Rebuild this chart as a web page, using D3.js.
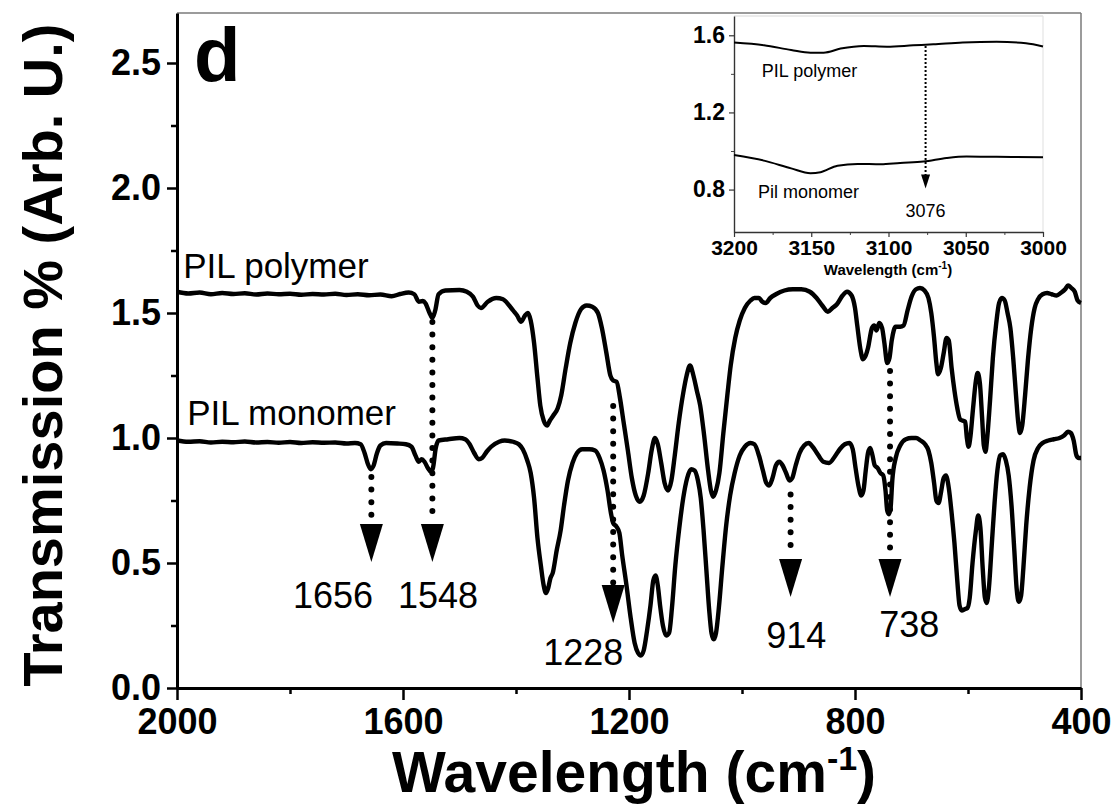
<!DOCTYPE html>
<html>
<head>
<meta charset="utf-8">
<script src="https://cdn.jsdelivr.net/npm/d3@7"></script>
<style>
html,body{margin:0;padding:0;background:#fff;}
svg{display:block;}
text{font-family:Arial,"Liberation Sans",sans-serif;fill:#000;}
</style>
</head>
<body>
<svg id="chart" width="1118" height="810"></svg>
<script>
// ---------- DATA ----------
const xTicksMain = [2000, 1600, 1200, 800, 400];
const xMinorMain = [1800, 1400, 1000, 600];
const yTicksMain = [0, 0.5, 1.0, 1.5, 2.0, 2.5];
const yMinorMain = [0.25, 0.75, 1.25, 1.75, 2.25];

// PIL polymer: [wavenumber, transmission]
const polymerWn = [2000,1980,1960,1940,1920,1900,1880,1860,1840,1820,1800,1780,1760,1740,1720,1700,1680,1660,1640,1620,1605,1590,1580,1572,1565,1560,1553,1548,1543,1537,1525,1500,1487,1476,1468,1462,1450,1435,1423,1412,1405,1398,1391,1384,1379,1374,1368,1362,1357,1351,1345,1340,1334,1326,1320,1312,1304,1295,1285,1275,1265,1255,1248,1240,1233,1228,1222,1216,1210,1202,1195,1188,1181,1174,1166,1160,1154,1149,1143,1137,1131,1125,1119,1112,1104,1098,1092,1086,1080,1074,1067,1060,1055,1051,1046,1040,1033,1026,1020,1012,1004,995,985,978,970,964,958,950,940,925,910,895,880,868,858,848,840,832,822,814,806,800,796,790,786,781,777,770,766,762,757,752,748,743,739,735,728,720,714,707,700,692,685,677,670,665,660,656,653,648,643,638,634,629,624,619,614,610,605,602,599,596,591,586,583,579,575,572,569,566,561,556,550,545,540,535,530,525,520,515,511,508,504,499,494,488,482,476,468,460,452,443,436,428,423,417,411,406,400];
const polymerT = [1.585,1.578,1.582,1.575,1.580,1.576,1.579,1.574,1.578,1.575,1.577,1.573,1.576,1.574,1.577,1.572,1.575,1.571,1.574,1.567,1.576,1.582,1.575,1.545,1.548,1.538,1.50,1.48,1.51,1.575,1.59,1.592,1.585,1.565,1.53,1.52,1.545,1.56,1.555,1.53,1.51,1.49,1.465,1.49,1.50,1.47,1.38,1.24,1.13,1.07,1.05,1.07,1.09,1.12,1.17,1.28,1.38,1.46,1.515,1.53,1.525,1.50,1.44,1.34,1.25,1.23,1.225,1.16,1.07,0.95,0.84,0.77,0.745,0.77,0.86,0.95,1.00,0.975,0.90,0.82,0.79,0.83,0.93,1.06,1.18,1.25,1.29,1.25,1.19,1.13,1.01,0.87,0.79,0.765,0.79,0.86,1.02,1.17,1.29,1.40,1.47,1.52,1.55,1.56,1.56,1.545,1.54,1.56,1.575,1.59,1.595,1.595,1.585,1.56,1.53,1.505,1.52,1.535,1.57,1.585,1.57,1.52,1.45,1.35,1.315,1.33,1.36,1.44,1.45,1.43,1.46,1.44,1.38,1.30,1.32,1.39,1.445,1.445,1.45,1.51,1.565,1.595,1.60,1.59,1.56,1.50,1.40,1.30,1.255,1.28,1.34,1.40,1.39,1.28,1.19,1.12,1.075,1.07,1.065,1.00,0.965,1.00,1.12,1.23,1.26,1.22,1.08,0.97,0.945,1.00,1.15,1.32,1.46,1.54,1.56,1.55,1.50,1.44,1.32,1.17,1.06,1.02,1.05,1.17,1.31,1.44,1.52,1.555,1.575,1.58,1.575,1.57,1.58,1.595,1.61,1.60,1.585,1.55,1.54];

// PIL monomer
const monomerWn = [2000,1980,1960,1940,1920,1900,1880,1860,1840,1820,1800,1780,1760,1740,1720,1700,1685,1675,1668,1662,1657,1652,1646,1640,1630,1610,1595,1585,1578,1572,1567,1562,1556,1551,1547,1542,1537,1520,1500,1490,1482,1474,1466,1460,1452,1444,1430,1420,1405,1395,1388,1380,1374,1368,1362,1356,1351,1347,1343,1339,1335,1328,1321,1315,1308,1300,1292,1283,1270,1260,1252,1245,1238,1232,1228,1222,1217,1212,1205,1197,1190,1184,1179,1174,1168,1162,1157,1153,1149,1145,1140,1134,1129,1124,1118,1111,1104,1097,1090,1084,1078,1073,1068,1063,1058,1054,1050,1046,1041,1035,1028,1021,1013,1004,995,985,978,970,963,957,952,946,940,934,928,922,916,911,905,898,890,882,875,866,856,846,836,827,818,810,804,799,794,789,785,781,777,773,769,765,760,755,750,746,743,740,737,734,728,720,710,700,692,684,676,670,665,660,656,652,648,643,639,634,629,624,619,615,611,606,601,597,592,586,582,578,574,570,567,563,558,553,548,543,538,533,528,523,518,514,510,506,502,497,491,484,476,468,458,448,438,430,423,418,413,408,404,400];
const monomerT = [0.99,0.985,0.987,0.982,0.985,0.983,0.986,0.982,0.984,0.981,0.984,0.980,0.983,0.981,0.982,0.978,0.98,0.975,0.94,0.895,0.875,0.89,0.94,0.97,0.98,0.978,0.975,0.965,0.93,0.905,0.915,0.905,0.88,0.865,0.88,0.96,0.99,0.995,1.00,0.995,0.975,0.94,0.915,0.92,0.945,0.965,0.985,0.99,0.985,0.975,0.955,0.91,0.86,0.76,0.60,0.49,0.41,0.38,0.40,0.44,0.46,0.55,0.63,0.73,0.83,0.90,0.94,0.955,0.955,0.95,0.92,0.87,0.79,0.70,0.66,0.645,0.62,0.53,0.42,0.28,0.18,0.14,0.13,0.15,0.23,0.33,0.43,0.45,0.41,0.33,0.25,0.21,0.22,0.32,0.49,0.64,0.76,0.84,0.875,0.87,0.83,0.76,0.63,0.47,0.31,0.22,0.195,0.22,0.32,0.48,0.65,0.77,0.86,0.93,0.965,0.98,0.975,0.93,0.87,0.82,0.81,0.84,0.89,0.905,0.89,0.86,0.83,0.84,0.89,0.94,0.97,0.98,0.965,0.935,0.905,0.90,0.925,0.955,0.975,0.98,0.955,0.88,0.81,0.77,0.79,0.87,0.94,0.96,0.93,0.89,0.88,0.86,0.85,0.79,0.71,0.695,0.72,0.83,0.92,0.97,0.995,1.00,1.00,0.99,0.975,0.95,0.90,0.82,0.75,0.74,0.78,0.84,0.85,0.80,0.70,0.58,0.43,0.33,0.31,0.315,0.32,0.36,0.50,0.63,0.69,0.64,0.48,0.36,0.34,0.40,0.57,0.74,0.87,0.93,0.935,0.91,0.85,0.73,0.55,0.40,0.345,0.37,0.48,0.65,0.80,0.91,0.96,0.98,0.99,0.995,1.00,1.01,1.025,1.02,0.99,0.93,0.92,0.92];

// Peak arrows: position, start value, tip value, label text, label centre, label baseline value
const arrowWn     = [1656, 1548, 1228, 914, 738];
const arrowStart  = [0.86, 1.48, 1.144, 0.79, 1.284];
const arrowTip    = [0.504, 0.504, 0.26, 0.364, 0.364];
const arrowLabel  = ["1656", "1548", "1228", "914", "738"];
const labelWn     = [1724, 1538, 1281, 904, 704];
const labelVal    = [0.32, 0.32, 0.092, 0.16, 0.204];

// Inset data
const insetXTicks = [3200, 3150, 3100, 3050, 3000];
const insetXMinor = [3175, 3125, 3075, 3025];
const insetYTicks = [0.8, 1.2, 1.6];
const insetYMinor = [1.0, 1.4];
const insetPolyWn = [3200,3180.6,3163,3150.5,3142,3131,3116,3101,3084,3071,3052,3030,3011,3000];
const insetPolyT  = [1.562,1.548,1.524,1.510,1.510,1.531,1.545,1.541,1.548,1.553,1.562,1.566,1.559,1.542];
const insetMonoWn = [3200,3180.6,3163,3150.5,3144,3133,3120,3105,3092.5,3077.4,3062.4,3049.5,3030,3000];
const insetMonoT  = [0.979,0.95,0.91,0.885,0.89,0.924,0.933,0.931,0.938,0.945,0.964,0.972,0.970,0.967];

// ---------- CHART ----------
const svg = d3.select("#chart");
const font = 'Arial,"Liberation Sans",sans-serif';

const x = d3.scaleLinear().domain([2000, 400]).range([177, 1081]);
const y = d3.scaleLinear().domain([0, 2.7]).range([688, 13]);

// frame top/right
svg.append("line").attr("x1", 177).attr("x2", 1081).attr("y1", y(2.7)).attr("y2", y(2.7))
  .attr("stroke", "#7a7a7a").attr("stroke-width", 1.5);
svg.append("line").attr("x1", 1081).attr("x2", 1081).attr("y1", y(2.7)).attr("y2", 688)
  .attr("stroke", "#7a7a7a").attr("stroke-width", 1.5);

// minor ticks
svg.append("g").attr("transform", "translate(0,688)")
  .call(d3.axisBottom(x).tickValues(xMinorMain).tickSize(6).tickFormat(""))
  .call(g => g.select(".domain").remove())
  .selectAll("line").attr("stroke-width", 2.5);
svg.append("g").attr("transform", "translate(177,0)")
  .call(d3.axisLeft(y).tickValues(yMinorMain).tickSize(6).tickFormat(""))
  .call(g => g.select(".domain").remove())
  .selectAll("line").attr("stroke-width", 2.5);

// major axes
const xAxis = svg.append("g").attr("transform", "translate(0,688)")
  .call(d3.axisBottom(x).tickValues(xTicksMain).tickSize(12).tickSizeOuter(0).tickPadding(8).tickFormat(d3.format("d")));
xAxis.select(".domain").attr("stroke-width", 3);
xAxis.selectAll(".tick line").attr("stroke-width", 2.5);
xAxis.selectAll("text").attr("font-family", font).attr("font-size", 36).attr("font-weight", "bold").attr("fill", "#000");

const yAxis = svg.append("g").attr("transform", "translate(177,0)")
  .call(d3.axisLeft(y).tickValues(yTicksMain).tickSize(10).tickSizeOuter(0).tickPadding(6).tickFormat(d3.format(".1f")));
yAxis.select(".domain").attr("stroke-width", 3);
yAxis.selectAll(".tick line").attr("stroke-width", 2.5);
yAxis.selectAll("text").attr("font-family", font).attr("font-size", 36).attr("font-weight", "bold").attr("fill", "#000");

// axis titles
const xt = svg.append("text").attr("x", 634).attr("y", 792).attr("text-anchor", "middle")
  .attr("font-size", 57).attr("font-weight", "bold");
xt.append("tspan").text("Wavelength (cm");
xt.append("tspan").attr("font-size", 34).attr("dy", -22).text("-1");
xt.append("tspan").attr("dy", 22).text(")");

svg.append("text").attr("transform", "translate(62,355) rotate(-90)").attr("text-anchor", "middle")
  .attr("font-size", 56).attr("font-weight", "bold").text("Transmission % (Arb. U.)");

// panel letter
svg.append("text").attr("x", 194).attr("y", 81).attr("font-size", 76).attr("font-weight", "bold").text("d");

// spectra
const line = d3.line().x(d => x(d[0])).y(d => y(d[1])).curve(d3.curveMonotoneX);
const polyData = polymerWn.map((w, i) => [w, polymerT[i]]);
const monoData = monomerWn.map((w, i) => [w, monomerT[i]]);
[polyData, monoData].forEach(data => {
  svg.append("path").datum(data).attr("d", line).attr("fill", "none")
    .attr("stroke", "#000").attr("stroke-width", 4.4).attr("stroke-linejoin", "round");
});

// series labels
svg.append("text").attr("x", x(1989)).attr("y", y(1.64)).attr("font-size", 35).text("PIL polymer");
svg.append("text").attr("x", x(1982)).attr("y", y(1.052)).attr("font-size", 35).text("PIL monomer");

// arrows
const headH = 38, headW = 23;
arrowWn.forEach((w, i) => {
  const ax = x(w), y0 = y(arrowStart[i]), yTip = y(arrowTip[i]);
  svg.append("line").attr("x1", ax).attr("x2", ax).attr("y1", y0 + 4).attr("y2", yTip - headH - 2)
    .attr("stroke", "#000").attr("stroke-width", 6).attr("stroke-linecap", "round")
    .attr("stroke-dasharray", "0 12.6");
  svg.append("path")
    .attr("d", `M${ax - headW / 2},${yTip - headH} L${ax + headW / 2},${yTip - headH} L${ax},${yTip} Z`)
    .attr("fill", "#000");
  svg.append("text").attr("x", x(labelWn[i])).attr("y", y(labelVal[i])).attr("text-anchor", "middle")
    .attr("font-size", 36).text(arrowLabel[i]);
});

// ---------- INSET ----------
const ix = d3.scaleLinear().domain([3200, 3000]).range([734, 1043]);
const iy = d3.scaleLinear().domain([0.58, 1.70]).range([232, 16]);
const inset = svg.append("g");

inset.append("line").attr("x1", 734).attr("x2", 1043).attr("y1", 16).attr("y2", 16)
  .attr("stroke", "#d8d8d8").attr("stroke-width", 1.2);
inset.append("line").attr("x1", 1043).attr("x2", 1043).attr("y1", 16).attr("y2", 232)
  .attr("stroke", "#e4e4e4").attr("stroke-width", 1.2);

inset.append("g").attr("transform", "translate(0,232)")
  .call(d3.axisBottom(ix).tickValues(insetXMinor).tickSize(3).tickFormat(""))
  .call(g => g.select(".domain").remove())
  .selectAll("line").attr("stroke", "#444");
inset.append("g").attr("transform", "translate(734,0)")
  .call(d3.axisLeft(iy).tickValues(insetYMinor).tickSize(3).tickFormat(""))
  .call(g => g.select(".domain").remove())
  .selectAll("line").attr("stroke", "#444");

const ixa = inset.append("g").attr("transform", "translate(0,232)")
  .call(d3.axisBottom(ix).tickValues(insetXTicks).tickSize(5).tickSizeOuter(0).tickPadding(3).tickFormat(d3.format("d")));
ixa.select(".domain").attr("stroke", "#333").attr("stroke-width", 1.4);
ixa.selectAll(".tick line").attr("stroke", "#333").attr("stroke-width", 1.2);
ixa.selectAll("text").attr("font-family", font).attr("font-size", 21).attr("font-weight", "bold").attr("fill", "#000");

const iya = inset.append("g").attr("transform", "translate(734,0)")
  .call(d3.axisLeft(iy).tickValues(insetYTicks).tickSize(5).tickSizeOuter(0).tickPadding(4).tickFormat(d3.format(".1f")));
iya.select(".domain").attr("stroke", "#333").attr("stroke-width", 1.4);
iya.selectAll(".tick line").attr("stroke", "#333").attr("stroke-width", 1.2);
iya.selectAll("text").attr("font-family", font).attr("font-size", 23).attr("font-weight", "bold").attr("fill", "#000");

const it = inset.append("text").attr("x", 888).attr("y", 275).attr("text-anchor", "middle")
  .attr("font-size", 15).attr("font-weight", "bold");
it.append("tspan").text("Wavelength (cm");
it.append("tspan").attr("font-size", 10).attr("dy", -6).text("-1");
it.append("tspan").attr("dy", 6).text(")");

const iline = d3.line().x(d => ix(d[0])).y(d => iy(d[1])).curve(d3.curveMonotoneX);
[insetPolyWn.map((w, i) => [w, insetPolyT[i]]), insetMonoWn.map((w, i) => [w, insetMonoT[i]])].forEach(data => {
  inset.append("path").datum(data).attr("d", iline).attr("fill", "none")
    .attr("stroke", "#000").attr("stroke-width", 2);
});

inset.append("text").attr("x", ix(3182)).attr("y", iy(1.383)).attr("font-size", 18).text("PIL polymer");
inset.append("text").attr("x", ix(3184.5)).attr("y", iy(0.757)).attr("font-size", 18).text("Pil monomer");

// inset arrow at 3076
const iax = ix(3076), iyTip = iy(0.806);
inset.append("line").attr("x1", iax).attr("x2", iax).attr("y1", iy(1.545)).attr("y2", iyTip - 13)
  .attr("stroke", "#000").attr("stroke-width", 2).attr("stroke-dasharray", "2 2");
inset.append("path").attr("d", `M${iax - 4.5},${iyTip - 14} L${iax + 4.5},${iyTip - 14} L${iax},${iyTip} Z`).attr("fill", "#000");
inset.append("text").attr("x", iax).attr("y", iy(0.658)).attr("text-anchor", "middle").attr("font-size", 18).text("3076");
</script>
</body>
</html>
